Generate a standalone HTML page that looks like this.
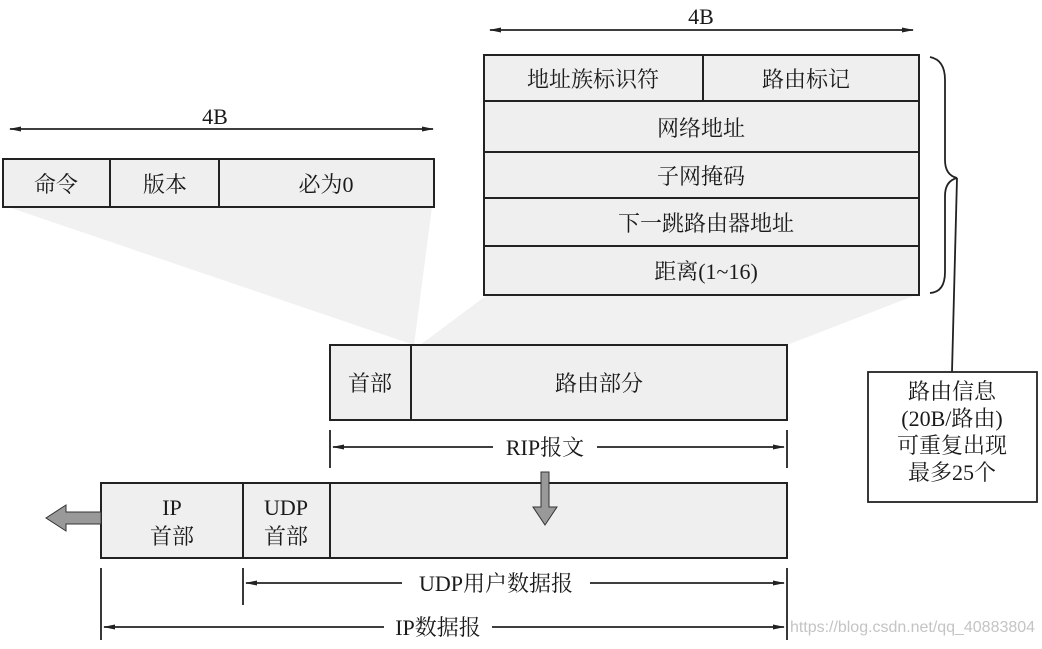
<!DOCTYPE html>
<html><head><meta charset="utf-8"><style>
body{margin:0;background:#fff}
svg text{font-family:"Liberation Serif","Noto Serif CJK SC",serif;font-size:22px;fill:#1a1a1a}
</style></head><body>
<svg width="1042" height="644" viewBox="0 0 1042 644" xmlns="http://www.w3.org/2000/svg">
<defs>
<marker id="a" markerWidth="12" markerHeight="8" refX="11" refY="4" orient="auto-start-reverse" markerUnits="userSpaceOnUse"><path d="M0,1.5 L12,4 L0,6.5 z" fill="#222"/></marker>
</defs>
<rect width="1042" height="644" fill="#fff"/>
<polygon points="8,207 432,207 414,345" fill="#f1f1f1"/>
<polygon points="487,295 916,295 787,345 420,345" fill="#f1f1f1"/>
<g stroke="#222" stroke-width="2" fill="#efefef">
<rect x="3" y="159" width="431" height="48"/>
<line x1="110" y1="159" x2="110" y2="207"/><line x1="219" y1="159" x2="219" y2="207"/>
<rect x="484" y="55" width="435" height="240"/>
<line x1="484" y1="101" x2="919" y2="101"/><line x1="484" y1="152" x2="919" y2="152"/>
<line x1="484" y1="198" x2="919" y2="198"/><line x1="484" y1="246" x2="919" y2="246"/>
<line x1="703" y1="55" x2="703" y2="101"/>
<rect x="330" y="345" width="457" height="75"/>
<line x1="411" y1="345" x2="411" y2="420"/>
<rect x="101" y="483" width="686" height="75"/>
<line x1="243" y1="483" x2="243" y2="558"/><line x1="330" y1="483" x2="330" y2="558"/>
</g>
<g stroke="#222" stroke-width="1.8" fill="none">
<line x1="10" y1="129" x2="433" y2="129" marker-start="url(#a)" marker-end="url(#a)"/>
<line x1="490" y1="30" x2="913" y2="30" marker-start="url(#a)" marker-end="url(#a)"/>
<path d="M930,57 Q945,60 945,80 L945,160 Q945,175 957,178 Q945,181 945,196 L945,272 Q945,292 930,293"/>
<line x1="957" y1="178" x2="952" y2="372"/>
<rect x="868" y="372" width="169" height="130" fill="#fff"/>
<line x1="330" y1="430" x2="330" y2="468"/><line x1="787" y1="430" x2="787" y2="468"/>
<line x1="333" y1="447" x2="493" y2="447" marker-start="url(#a)"/>
<line x1="597" y1="447" x2="784" y2="447" marker-end="url(#a)"/>
<line x1="101" y1="568" x2="101" y2="640"/><line x1="243" y1="568" x2="243" y2="605"/><line x1="787" y1="568" x2="787" y2="640"/>
<line x1="246" y1="583" x2="402" y2="583" marker-start="url(#a)"/>
<line x1="590" y1="583" x2="784" y2="583" marker-end="url(#a)"/>
<line x1="104" y1="627" x2="384" y2="627" marker-start="url(#a)"/>
<line x1="492" y1="627" x2="784" y2="627" marker-end="url(#a)"/>
</g>
<polygon points="541,472 549,472 549,507 557,507 545,525 533,507 541,507" fill="#999" stroke="#333" stroke-width="1"/>
<polygon points="101,512 66,512 66,505 46,518 66,531 66,524 101,524" fill="#999" stroke="#333" stroke-width="1"/>
<g text-anchor="middle">
<text x="215" y="124">4B</text>
<text x="701" y="24">4B</text>
<text x="56" y="192">命令</text><text x="165" y="192">版本</text><text x="326" y="192">必为0</text>
<text x="593" y="87">地址族标识符</text><text x="806" y="87">路由标记</text>
<text x="701" y="136">网络地址</text><text x="701" y="184">子网掩码</text>
<text x="706" y="231">下一跳路由器地址</text><text x="706" y="279">距离(1~16)</text>
<text x="370" y="391">首部</text><text x="599" y="391">路由部分</text>
<text x="545" y="455">RIP报文</text>
<text x="172" y="515">IP</text><text x="172" y="544">首部</text>
<text x="286" y="515">UDP</text><text x="286" y="544">首部</text>
<text x="496" y="591">UDP用户数据报</text>
<text x="438" y="635">IP数据报</text>
<text x="952" y="399">路由信息</text><text x="952" y="426">(20B/路由)</text>
<text x="952" y="453">可重复出现</text><text x="952" y="480">最多25个</text>
</g>
<text x="790" y="632" style="font-family:'Liberation Sans',sans-serif;font-size:16px;fill:#c4c4c4" textLength="245">https://blog.csdn.net/qq_40883804</text>
</svg>
</body></html>
